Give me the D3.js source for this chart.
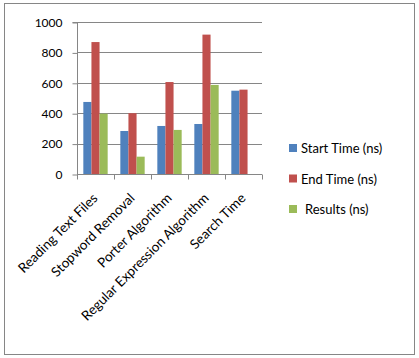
<!DOCTYPE html>
<html>
<head>
<meta charset="utf-8">
<script src="https://cdn.jsdelivr.net/npm/d3@7"></script>
<style>
    body { margin: 0; background: #fff; }
    text { font-family: Lato, "Open Sans", sans-serif; fill: #000; }
</style>
</head>
<body>
<div id="chart"></div>
<script>
// chart data
let categories = ["Reading Text Files", "Stopword Removal", "Porter Algorithm",
    "Regular Expression Algorithm", "Search Time"];
let seriesNames = ["Start Time (ns)", "End Time (ns)", "Results (ns)"];
let startTime = [474, 283, 316, 329, 548];
let endTime = [868, 400, 605, 917, 555];
let results = [397, 114, 290, 586, null];
let yTicks = [0, 200, 400, 600, 800, 1000];
let colors = ["#4F81BD", "#C0504D", "#9BBB59"];

let W = 419, H = 358;
let margin = {top: 22, left: 77, right: 157, bottom: 184};

let svg = d3.select("#chart").append("svg")
    .attr("width", W)
    .attr("height", H);

// outer frame
svg.append("rect")
    .attr("x", 4.5).attr("y", 3.5)
    .attr("width", 410).attr("height", 351)
    .attr("fill", "#fff")
    .attr("stroke", "#868686")
    .attr("stroke-width", 1);

let x = d3.scaleBand()
    .domain(categories)
    .range([margin.left, W - margin.right]);

let x1 = d3.scaleBand()
    .domain(seriesNames)
    .range([0, x.bandwidth()])
    .paddingInner(0)
    .paddingOuter(0.78);

let y = d3.scaleLinear()
    .domain([0, 1000])
    .range([H - margin.bottom, margin.top]);

// gridlines
svg.append("g")
    .selectAll("line")
    .data(yTicks.slice(1))
    .enter()
    .append("line")
    .attr("x1", margin.left)
    .attr("x2", W - margin.right)
    .attr("y1", d => Math.round(y(d)) + 0.5)
    .attr("y2", d => Math.round(y(d)) + 0.5)
    .attr("stroke", "#868686");

// bars
let allSeries = [startTime, endTime, results];
allSeries.forEach((vals, i) => {
    svg.append("g")
        .selectAll("rect")
        .data(vals.map((v, j) => ({cat: categories[j], v: v})).filter(d => d.v != null))
        .enter()
        .append("rect")
        .attr("x", d => x(d.cat) + x1(seriesNames[i]))
        .attr("width", x1.bandwidth())
        .attr("y", d => y(d.v))
        .attr("height", d => y(0) - y(d.v))
        .attr("fill", colors[i]);
});

// y axis
let yAxis = d3.axisLeft(y)
    .tickValues(yTicks)
    .tickSize(5)
    .tickPadding(10)
    .tickFormat(d3.format("d"));

let yG = svg.append("g")
    .attr("transform", `translate(${margin.left + 0.5},0.5)`)
    .call(yAxis);
yG.selectAll("path, line").attr("stroke", "#868686");
yG.select(".domain").attr("d", `M-5,${y(1000)}H0V${y(0)}`);
yG.selectAll("text")
    .style("font-size", "12px")
    .attr("fill", "#000");

// x axis
let xAxis = d3.axisBottom(x).tickSize(0).tickFormat("");
let xG = svg.append("g")
    .attr("transform", `translate(0,${Math.round(y(0)) + 0.5})`)
    .call(xAxis);
xG.select(".domain").attr("stroke", "#868686").attr("d", `M${margin.left},0H${W - margin.right}`);

// category boundary ticks
let bounds = categories.map(c => x(c)).concat([W - margin.right]);
xG.selectAll(".bound")
    .data(bounds)
    .enter()
    .append("line")
    .attr("class", "bound")
    .attr("x1", d => Math.round(d) + 0.5)
    .attr("x2", d => Math.round(d) + 0.5)
    .attr("y1", 0)
    .attr("y2", 5)
    .attr("stroke", "#868686");

// rotated category labels
svg.append("g")
    .selectAll("text")
    .data(categories)
    .enter()
    .append("text")
    .attr("transform", d => `translate(${x(d) + x.bandwidth() / 2 + 3},${y(0) + 25}) rotate(-45)`)
    .attr("text-anchor", "end")
    .style("font-size", "13.5px")
    .text(d => d);

// legend
let legend = svg.append("g")
    .attr("class", "legend")
    .attr("transform", "translate(289,144)");

seriesNames.forEach((name, i) => {
    legend.append("rect")
        .attr("x", 0)
        .attr("y", i * 30.5)
        .attr("width", 8)
        .attr("height", 8)
        .attr("fill", colors[i]);
    legend.append("text")
        .attr("x", i == 2 ? 16 : 12)
        .attr("y", i * 30.5 + 9)
        .style("font-size", "13px")
        .text(name);
});
</script>
</body>
</html>
